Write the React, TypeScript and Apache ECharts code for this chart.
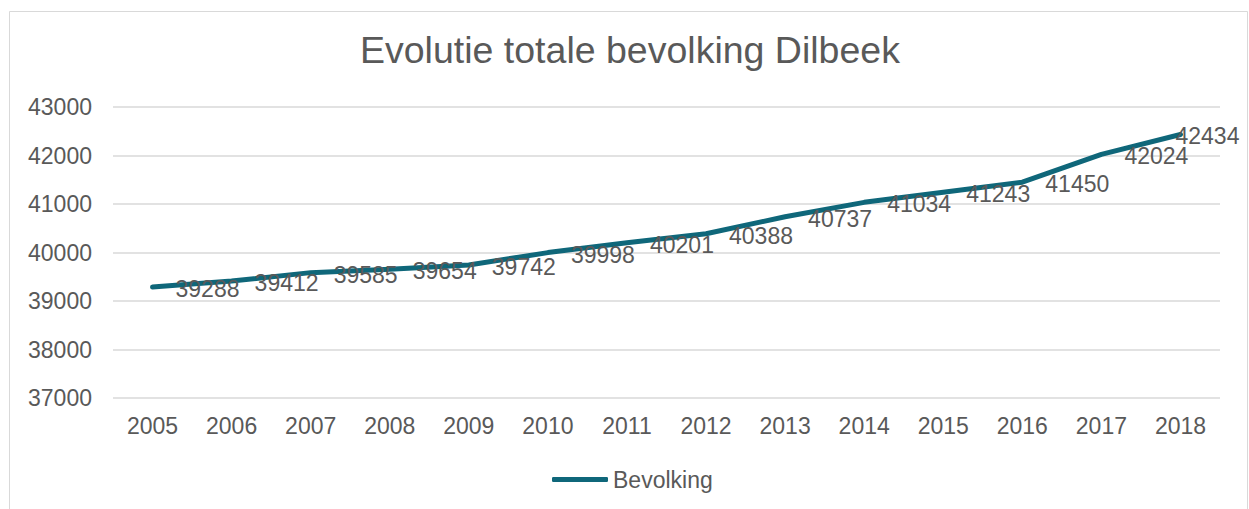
import React, { useEffect, useRef } from "react";
import * as echarts from "echarts";

const years = ["2005", "2006", "2007", "2008", "2009", "2010", "2011", "2012", "2013", "2014", "2015", "2016", "2017", "2018"];
const population = [39288, 39412, 39585, 39654, 39742, 39998, 40201, 40388, 40737, 41034, 41243, 41450, 42024, 42434];
const seriesName = "Bevolking";
const titleText = "Evolutie totale bevolking Dilbeek";

const FONT = "'Liberation Sans', Arial, sans-serif";
const TEXT = "#595959";
const LINE = "#0F677A";

export default function App() {
  const ref = useRef<HTMLDivElement>(null);
  useEffect(() => {
    document.body.style.margin = "0";
    const chart = echarts.init(ref.current!, null, { renderer: "svg" });
    const data = population.map((v, i) =>
      i === population.length - 1
        ? { value: v, label: { offset: [-28, 2] } }
        : { value: v }
    );
    chart.setOption({
      animation: false,
      backgroundColor: "#ffffff",
      textStyle: { fontFamily: FONT },
      title: {
        text: titleText,
        left: 360,
        top: 31,
        padding: 0,
        textStyle: { fontFamily: FONT, fontSize: 37.5, fontWeight: "normal", color: TEXT },
      },
      graphic: [
        {
          type: "rect",
          shape: { x: 9.5, y: 11.5, width: 1238, height: 520 },
          style: { fill: "none", stroke: "#d9d9d9", lineWidth: 1 },
          silent: true,
        },
      ],
      legend: {
        left: 547,
        top: 463,
        icon: "roundRect",
        itemWidth: 56,
        itemHeight: 5,
        textStyle: { fontFamily: FONT, fontSize: 23, color: TEXT },
        data: [seriesName],
      },
      grid: { left: 113, right: 29, top: 107, bottom: 111, containLabel: false },
      xAxis: {
        type: "category",
        data: years,
        boundaryGap: true,
        axisLine: { show: false },
        axisTick: { show: false },
        axisLabel: { fontFamily: FONT, fontSize: 23, color: TEXT, margin: 16 },
      },
      yAxis: {
        type: "value",
        min: 37000,
        max: 43000,
        interval: 1000,
        axisLine: { show: false },
        axisTick: { show: false },
        axisLabel: { fontFamily: FONT, fontSize: 23, color: TEXT, margin: 21, formatter: (v: number) => String(v) },
        splitLine: { lineStyle: { color: "#d9d9d9", width: 1.5 } },
      },
      series: [
        {
          name: seriesName,
          type: "line",
          data,
          symbol: "circle",
          symbolSize: 2,
          itemStyle: { color: LINE },
          lineStyle: { color: LINE, width: 5, cap: "round", join: "round" },
          label: {
            show: true,
            position: "right",
            distance: 22,
            offset: [0, 2],
            fontFamily: FONT,
            fontSize: 23,
            color: TEXT,
          },
        },
      ],
    });
    return () => chart.dispose();
  }, []);
  return <div ref={ref} style={{ width: 1249, height: 509 }} />;
}
